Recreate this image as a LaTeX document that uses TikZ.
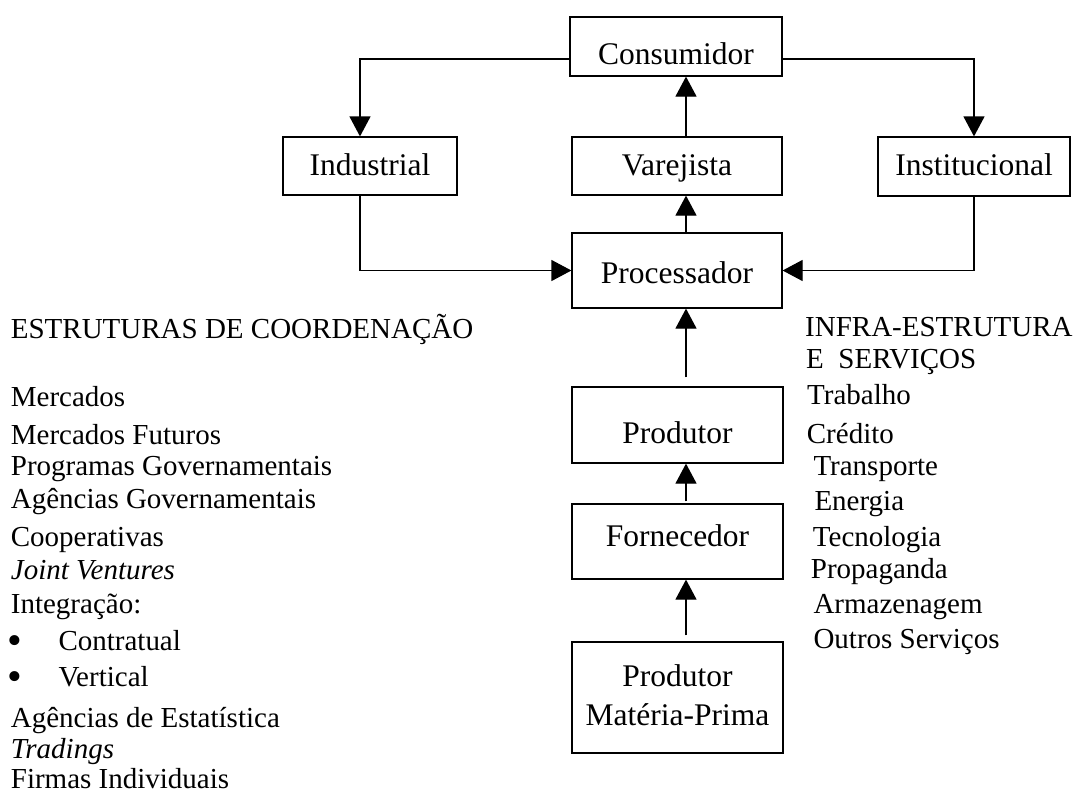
\documentclass[tikz,border=0pt]{standalone}
\usepackage{fontspec}
\usepackage{graphicx}
\setmainfont{Liberation Serif}
\usetikzlibrary{arrows.meta}
\newcommand\bxfont{\fontsize{31.5}{38.3}\selectfont}
\newcommand\lsfont{\fontsize{29}{34}\selectfont}
\tikzset{
  box/.style={draw, line width=1.2pt, inner sep=0pt, font=\bxfont, align=center},
  arr/.style={line width=1.2pt, -{Triangle[length=20pt,width=21pt]}},
  lst/.style={anchor=base west, inner sep=0pt, font=\lsfont},
  bul/.style={anchor=base west, inner sep=0pt, font=\lsfont}
}
\begin{document}
\begin{tikzpicture}[x=1pt,y=-1pt]
\useasboundingbox (0,0) rectangle (1080,793);
% boxes
\node[box, minimum width=212pt, text height=47.3pt, text depth=11.7pt] (cons) at (676,46.5) {Consumidor};
\node[box, minimum width=174pt, text height=38pt, text depth=20pt] (ind) at (370,166) {Industrial};
\node[box, minimum width=210pt, text height=38pt, text depth=20pt] (var) at (677,166) {Varejista};
\node[box, minimum width=192pt, text height=38pt, text depth=21pt] (inst) at (974,166.5) {Institucional};
\node[box, minimum width=210pt, text height=50.3pt, text depth=24.7pt] (proc) at (677,270.5) {Processador};
\node[box, minimum width=211pt, text height=56.3pt, text depth=19.7pt] (prod) at (677.5,425) {Produtor};
\node[box, minimum width=211pt, text height=42.7pt, text depth=32.3pt] (forn) at (677.5,541.5) {Fornecedor};
\node[box, minimum width=211pt, text height=44.7pt, text depth=66.3pt] (mp) at (677.5,697.5)
  {\begin{tabular}[t]{@{}c@{}}Produtor\\Matéria-Prima\end{tabular}};
% connectors
\draw[arr] ([yshift=-12.5pt]cons.west) -| ([xshift=-10pt]ind.north);
\draw[arr] ([yshift=-12.5pt]cons.east) -| (inst.north);
\draw[arr] ([xshift=-10pt]ind.south) |- (proc.west);
\draw[arr] (inst.south) |- (proc.east);
\draw[arr] ([xshift=9pt]var.north) -- ([xshift=10pt]cons.south);
\draw[arr] ([xshift=9pt]proc.north) -- ([xshift=9pt]var.south);
\draw[arr] ([xshift=8.5pt,yshift=9pt]prod.north) -- ([xshift=9pt]proc.south);
\draw[arr] ([xshift=8.5pt,yshift=2pt]forn.north) -- ([xshift=8.5pt]prod.south);
\draw[arr] ([xshift=8.5pt,yshift=6pt]mp.north) -- ([xshift=8.5pt]forn.south);
% left list
\node[lst] (l0) at (10.7,338.3) {ESTRUTURAS DE COORDENAÇÃO};
\node[lst] (l1) at (10.7,406.7) {Mercados};
\node[lst] (l2) at (10.7,444) {Mercados Futuros};
\node[lst] (l3) at (10.7,475) {Programas Governamentais};
\node[lst] (l4) at (10.7,508) {Agências Governamentais};
\node[lst] (l5) at (10.7,546.7) {Cooperativas};
\node[lst] (l6) at (10.7,579.3) {\itshape Joint Ventures};
\node[lst] (l7) at (10.7,613) {Integração:};
\node[bul] (b1) at (7,654) {\scalebox{1.45}{•}};
\node[lst] (l8) at (58.3,650) {Contratual};
\node[bul] (b2) at (7,690.7) {\scalebox{1.45}{•}};
\node[lst] (l9) at (58.3,686.7) {Vertical};
\node[lst] (l10) at (10.7,727.7) {Agências de Estatística};
\node[lst] (l11) at (10.7,758.3) {\itshape Tradings};
\node[lst] (l12) at (10.7,788.5) {Firmas Individuais};
% right list
\node[lst] (r0) at (805,336.7) {INFRA-ESTRUTURA};
\node[lst] (r1) at (806,368.3) {E\ \ SERVIÇOS};
\node[lst] (r2) at (807,404) {Trabalho};
\node[lst] (r3) at (806.7,443.3) {Crédito};
\node[lst] (r4) at (813.3,475) {Transporte};
\node[lst] (r5) at (814.3,510) {Energia};
\node[lst] (r6) at (812.7,546.7) {Tecnologia};
\node[lst] (r7) at (810.7,578.3) {Propaganda};
\node[lst] (r8) at (813.3,613.3) {Armazenagem};
\node[lst] (r9) at (813.3,648.3) {Outros Serviços};
\end{tikzpicture}
\end{document}
